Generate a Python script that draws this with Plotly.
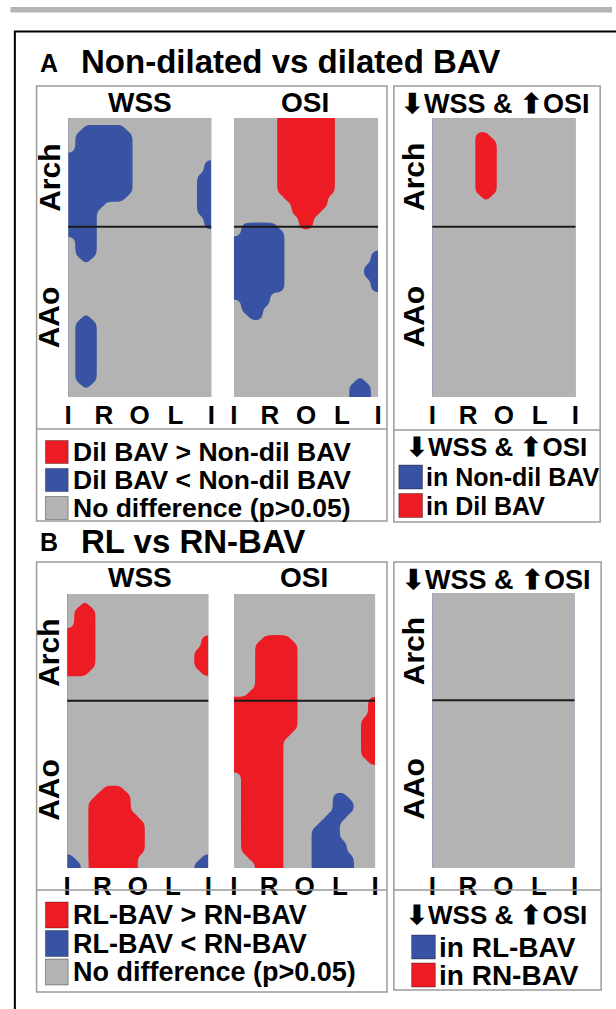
import numpy as np
import plotly.graph_objects as go

W, H = 616, 1009
FONT = "Liberation Sans, Arial, Helvetica, sans-serif"
RED = "#ED1C24"
BLUE = "#3953A4"
GRAY = "#B3B3B3"
BOX = "#9A9A9A"

CIRC_LABELS = ["I", "R", "O", "L", "I"]
CIRC_POS = [0.0, 0.25, 0.5, 0.75, 1.0]
AXIAL_LABELS = ["Arch", "AAo"]
ARCH_AAO_BOUNDARY = 0.39

# Significance maps: 40 rows from distal arch (top) to proximal AAo (bottom),
# 20 columns around the circumference I-R-O-L-I.
# r = first group higher, b = first group lower, . = no difference
A_WSS = [
    "....................",
    "..bbbbbb............",
    ".bbbbbbbb...........",
    ".bbbbbbbb...........",
    ".bbbbbbbb...........",
    "bbbbbbbbb...........",
    "bbbbbbbbb..........b",
    "bbbbbbbbb..........b",
    "bbbbbbbbb.........bb",
    "bbbbbbbbb.........bb",
    "bbbbbbbbb.........bb",
    "bbbbbbbb..........bb",
    "bbbbb.............bb",
    "bbbb..............bb",
    "bbbb...............b",
    "bbbb...............b",
    "bbbb................",
    ".bbb................",
    ".bbb................",
    ".bbb................",
    "..b.................",
    "....................",
    "....................",
    "....................",
    "....................",
    "....................",
    "....................",
    "....................",
    "..b.................",
    ".bbb................",
    ".bbb................",
    ".bbb................",
    ".bbb................",
    ".bbb................",
    ".bbb................",
    ".bbb................",
    ".bbb................",
    ".bbb................",
    "..b.................",
    "....................",
]

A_OSI = [
    "......rrrrrrrr......",
    "......rrrrrrrr......",
    "......rrrrrrrr......",
    "......rrrrrrrr......",
    "......rrrrrrrr......",
    "......rrrrrrrr......",
    "......rrrrrrrr......",
    "......rrrrrrrr......",
    "......rrrrrrrr......",
    "......rrrrrrrr......",
    "......rrrrrrrr......",
    ".......rrrrrr.......",
    "........rrrrr.......",
    "........rrrr........",
    ".........rr.........",
    ".bbbbb...rr.........",
    ".bbbbbb.............",
    "bbbbbbb.............",
    "bbbbbbb.............",
    "bbbbbbb............b",
    "bbbbbbb............b",
    "bbbbbbb...........bb",
    "bbbbbbb...........bb",
    "bbbbbbb............b",
    "bbbbbbb............b",
    "bbbbb...............",
    ".bbbb...............",
    ".bbb................",
    "..bb................",
    "....................",
    "....................",
    "....................",
    "....................",
    "....................",
    "....................",
    "....................",
    "....................",
    ".................b..",
    "................bbb.",
    "................bbb.",
]

A_BOTH = [
    "....................",
    "....................",
    "......rr............",
    "......rrr...........",
    "......rrr...........",
    "......rrr...........",
    "......rrr...........",
    "......rrr...........",
    "......rrr...........",
    "......rrr...........",
    "......rrr...........",
    ".......r............",
] + ["...................."] * 28

B_WSS = [
    "....................",
    "..r.................",
    ".rrr................",
    ".rrr................",
    ".rrr................",
    "rrrr................",
    "rrrr...............r",
    "rrrr...............r",
    "rrrr..............rr",
    "rrrr..............rr",
    "rrrr..............rr",
    "rrr................r",
] + ["...................."] * 16 + [
    ".....rrr............",
    "....rrrrr...........",
    "...rrrrrr...........",
    "...rrrrrr...........",
    "...rrrrrrr..........",
    "...rrrrrrrr.........",
    "...rrrrrrrr.........",
    "...rrrrrrrr.........",
    "...rrrrrrrr.........",
    "...rrrrrrrr.........",
    "b..rrrrrrr.........b",
    "bb.rrrrrrr........bb",
]

B_OSI = ["...................."] * 6 + [
    "....rrrr............",
    "...rrrrrr...........",
    "...rrrrrr...........",
    "...rrrrrr...........",
    "...rrrrrr...........",
    "...rrrrrr...........",
    "...rrrrrr...........",
    "...rrrrrr...........",
    "..rrrrrrr...........",
    "rrrrrrrrr..........r",
    "rrrrrrrrr..........r",
    "rrrrrrrrr..........r",
    "rrrrrrrrr.........rr",
    "rrrrrrrrr.........rr",
    "rrrrrrrr..........rr",
    "rrrrrrr...........rr",
    "rrrrrrr...........rr",
    "rrrrrrr...........rr",
    "rrrrrrr............r",
    "rrrrrrr.............",
    ".rrrrrr.............",
    ".rrrrrr.............",
    ".rrrrrr.............",
    ".rrrrrr.......bb....",
    ".rrrrrr.......bbb...",
    ".rrrrrr.......bbb...",
    ".rrrrrr......bbb....",
    ".rrrrrr.....bbb.....",
    ".rrrrrr....bbbb.....",
    ".rrrrrr....bbbb.....",
    ".rrrrrr....bbbbb....",
    ".rrrrrr....bbbbb....",
    "..rrrrr....bbbbbb...",
    "...rrrr....bbbbbb...",
]

B_BOTH = ["...................."] * 40

BOTH_TITLE = "\u2b07WSS & \u2b06OSI"

# pixel boxes of each map: (left, top, right, bottom)
MAPS = [
    dict(grid=A_WSS, box=(65, 118, 210, 397), title="WSS", tx=137.5, ty=102, axial=True),
    dict(grid=A_OSI, box=(233, 118, 379, 397), title="OSI", tx=305, ty=102, axial=False),
    dict(grid=A_BOTH, box=(434, 118, 579, 397), title=BOTH_TITLE, tx=498, ty=104, axial=True),
    dict(grid=B_WSS, box=(64, 594, 207, 868), title="WSS", tx=137.5, ty=577, axial=True),
    dict(grid=B_OSI, box=(233, 594, 376, 868), title="OSI", tx=304, ty=577, axial=False),
    dict(grid=B_BOTH, box=(434, 593, 578, 868), title=BOTH_TITLE, tx=499, ty=580, axial=True),
]


def px(x):
    return x / W


def py(y):
    return 1 - y / H


def grid_field(rows, sub=3, soften=0.55):
    """Cell codes -> numeric field; cells are subdivided and their edges
    softened slightly so the 0.5 outlines come out rounded."""
    code = {".": 0.0, "r": 1.0, "b": -1.0}
    z = np.array([[code[c] for c in row] for row in rows])
    z = np.kron(z, np.ones((sub, sub)))
    s = soften * sub
    rad = int(np.ceil(3 * s))
    k = np.exp(-0.5 * (np.arange(-rad, rad + 1) / s) ** 2)
    k /= k.sum()
    z = np.pad(z, rad, mode="edge")
    z = np.apply_along_axis(lambda v: np.convolve(v, k, mode="valid"), 0, z)
    z = np.apply_along_axis(lambda v: np.convolve(v, k, mode="valid"), 1, z)
    # repeat border values on the map edges so regions reach the frame
    z = np.pad(z, 1, mode="edge")
    ny, nx = z.shape[0] - 2, z.shape[1] - 2
    xs = np.concatenate([[0.0], (np.arange(nx) + 0.5) / nx, [1.0]])
    ys = np.concatenate([[0.0], (np.arange(ny) + 0.5) / ny, [1.0]])
    return xs, ys, z


fig = go.Figure()
layout = dict(
    width=W, height=H, autosize=False,
    margin=dict(l=0, r=0, t=0, b=0),
    paper_bgcolor="white", plot_bgcolor=GRAY,
    showlegend=False,
    font=dict(family=FONT, color="black"),
)
shapes = []
annotations = []


def text(s, x, y, size, anchor="left", angle=0, pad=1):
    annotations.append(dict(
        text=s, x=px(x), y=py(y), xref="paper", yref="paper",
        xanchor=anchor, yanchor="middle", showarrow=False, textangle=angle,
        borderpad=pad,
        font=dict(family=FONT, size=size, color="black", weight="bold"),
    ))


for i, m in enumerate(MAPS, start=1):
    xs, ys, z = grid_field(m["grid"])
    sfx = "" if i == 1 else str(i)
    fig.add_trace(go.Contour(
        x=xs, y=ys, z=z,
        xaxis="x" + sfx, yaxis="y" + sfx,
        autocontour=False,
        contours=dict(start=-0.5, end=0.5, size=1, coloring="fill", showlines=True),
        colorscale=[[0, BLUE], [0.5, GRAY], [1, RED]],
        line=dict(width=0, smoothing=1.0),
        showscale=False, hoverinfo="skip",
    ))
    l, t, r, b = m["box"]
    layout["xaxis" + sfx] = dict(
        domain=[px(l), px(r)], range=[0, 1], anchor="y" + sfx,
        showgrid=False, zeroline=False, showline=False, ticks="",
        tickvals=CIRC_POS, ticktext=CIRC_LABELS,
        tickfont=dict(family=FONT, size=26, color="black", weight="bold"),
        fixedrange=True,
    )
    layout["yaxis" + sfx] = dict(
        domain=[py(b), py(t)], range=[1, 0], anchor="x" + sfx,
        showgrid=False, zeroline=False, showline=False, ticks="",
        showticklabels=False, fixedrange=True,
    )
    shapes.append(dict(
        type="line", xref="x" + sfx + " domain", yref="y" + sfx,
        x0=0, x1=1, y0=ARCH_AAO_BOUNDARY, y1=ARCH_AAO_BOUNDARY,
        line=dict(color="#1a1a1a", width=2),
    ))
    text(m["title"], m["tx"], m["ty"], 28 if m["title"] != BOTH_TITLE else 27, "center")
    if m["axial"]:
        # segment names centred on their segment, drawn sideways left of the map
        mids = [ARCH_AAO_BOUNDARY / 2, (1 + ARCH_AAO_BOUNDARY) / 2]
        for lab, mid in zip(AXIAL_LABELS, mids):
            text(lab, l - 19, t + mid * (b - t) + 5, 30, "center", angle=-90)


def rect(x0, y0, x1, y1, fill=None, color=BOX, width=1.5):
    shapes.append(dict(
        type="rect", xref="paper", yref="paper",
        x0=px(x0), x1=px(x1), y0=py(y0), y1=py(y1),
        fillcolor=fill if fill else "rgba(0,0,0,0)",
        line=dict(color=color, width=width),
    ))


def hline(x0, x1, y, color=BOX, width=1.5):
    shapes.append(dict(
        type="line", xref="paper", yref="paper",
        x0=px(x0), x1=px(x1), y0=py(y), y1=py(y),
        line=dict(color=color, width=width),
    ))


# page furniture
shapes.append(dict(type="rect", xref="paper", yref="paper",
                   x0=px(6.5), x1=px(616), y0=py(7), y1=py(12.5),
                   fillcolor="#B5B5B5", line=dict(width=0)))
rect(11, 31.5, 640, 1040, color="black", width=2)

# panel frames with legend separators
rect(33, 86, 388, 521)
hline(33, 388, 429)
rect(395, 86, 604, 522)
hline(395, 604, 430)
rect(33, 562, 388, 992)
hline(33, 388, 890)
rect(395, 562, 605, 990)
hline(395, 605, 890)

# panel headings
text("A", 46, 63, 25, "center")
text("Non-dilated vs dilated BAV", 76, 62, 33)
text("B", 45.5, 542, 25, "center")
text("RL vs RN-BAV", 76, 541, 33)

# legends
LEGEND_A = ["Dil BAV > Non-dil BAV", "Dil BAV < Non-dil BAV", "No difference (p>0.05)"]
LEGEND_B = ["RL-BAV > RN-BAV", "RL-BAV < RN-BAV", "No difference (p>0.05)"]
LEGEND_COLORS = [RED, BLUE, GRAY]
BOTH_A = ["in Non-dil BAV", "in Dil BAV"]
BOTH_B = ["in RL-BAV", "in RN-BAV"]
BOTH_COLORS = [BLUE, RED]

for k, (lab, col) in enumerate(zip(LEGEND_A, LEGEND_COLORS)):
    yc = 452 + 28 * k
    rect(42, yc - 11.5, 65, yc + 11.5, fill=col, color="rgba(0,0,0,0.35)", width=1)
    text(lab, 69, yc, 26.5, pad=0)
for k, (lab, col) in enumerate(zip(LEGEND_B, LEGEND_COLORS)):
    yc = 915 + 28.5 * k
    rect(42, yc - 13, 65, yc + 13, fill=col, color="rgba(0,0,0,0.35)", width=1)
    text(lab, 69, yc, 27, pad=0)

text(BOTH_TITLE, 499, 447, 26, "center")
for k, (lab, col) in enumerate(zip(BOTH_A, BOTH_COLORS)):
    yc = 477 + 28.5 * k
    rect(400, yc - 12, 424, yc + 12, fill=col, color="rgba(0,0,0,0.35)", width=1)
    text(lab, 427, yc, 25, pad=0)

text(BOTH_TITLE, 499, 915, 26, "center")
for k, (lab, col) in enumerate(zip(BOTH_B, BOTH_COLORS)):
    yc = 947 + 28 * k
    rect(413, yc - 12, 437, yc + 12, fill=col, color="rgba(0,0,0,0.35)", width=1)
    text(lab, 440, yc, 28, pad=0)

layout["shapes"] = shapes
layout["annotations"] = annotations
fig.update_layout(**layout)
fig.write_html("out.html")
